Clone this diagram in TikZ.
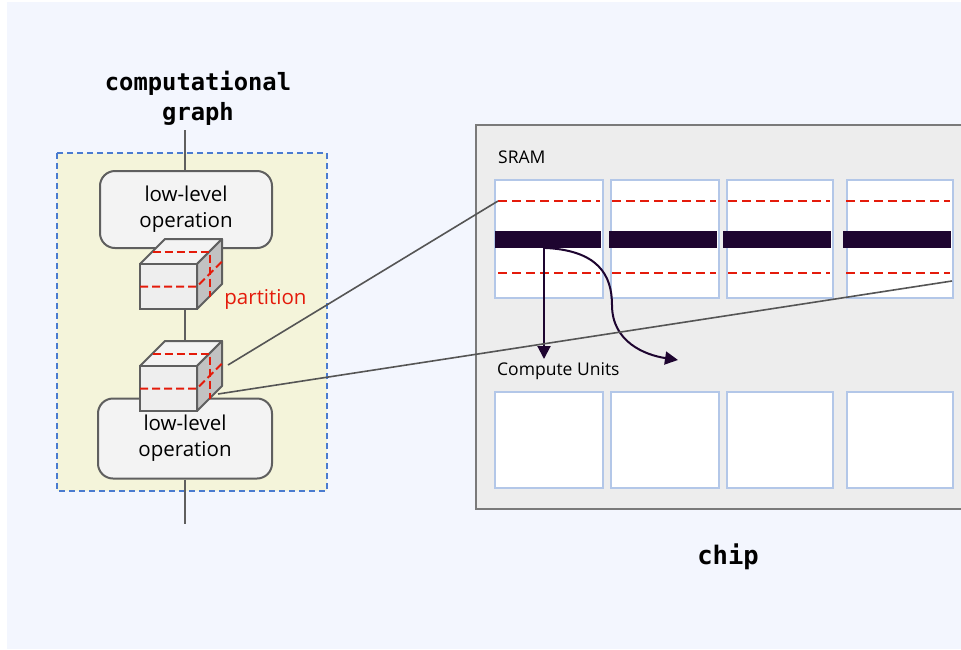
\documentclass[tikz,border=0pt]{standalone}
\usepackage{fontspec}
\setmainfont{Open Sans}
\newfontfamily\codefont{DejaVu Sans Mono}
\usetikzlibrary{arrows.meta}

\definecolor{pagebg}{HTML}{F3F6FE}
\definecolor{grpfill}{HTML}{F4F4DA}
\definecolor{grpline}{HTML}{4A7BD0}
\definecolor{opfill}{HTML}{F3F3F3}
\definecolor{opline}{HTML}{5F5F5F}
\definecolor{cubefront}{HTML}{EEEEEE}
\definecolor{cubetop}{HTML}{F3F3F3}
\definecolor{cubeside}{HTML}{C2C2C2}
\definecolor{cutred}{HTML}{E41B0B}
\definecolor{chipfill}{HTML}{EDEDED}
\definecolor{chipline}{HTML}{7A7A7A}
\definecolor{cellline}{HTML}{B3C7E8}
\definecolor{rowbar}{HTML}{1E0530}
\definecolor{linkgray}{HTML}{555555}

\tikzset{
  opbox/.style={draw=opline, line width=2pt, fill=opfill, rounded corners=15pt,
    minimum width=#1, align=center, font=\fontsize{20.5}{26}\selectfont, inner sep=0pt},
  cell/.style={draw=cellline, line width=2pt, fill=white, minimum width=106pt,
    minimum height=118pt, inner sep=0pt, anchor=north west},
  ucell/.style={cell, minimum height=96pt},
  bar/.style={fill=rowbar, minimum width=#1, minimum height=17pt, inner sep=0pt, anchor=north west},
  cut/.style={draw=cutred, line width=2pt, dash pattern=on 9pt off 5pt},
  cubecut/.style={draw=cutred, line width=2pt, dash pattern=on 8pt off 4pt},
  link/.style={draw=linkgray, line width=1.6pt},
  flow/.style={draw=rowbar, line width=2pt, -{Triangle[length=13pt,width=13pt]}},
  title/.style={font=\codefont\bfseries\fontsize{23.8}{30}\selectfont, align=center, inner sep=0pt},
  lbl/.style={font=\fontsize{17.5}{20}\selectfont, inner sep=0pt, anchor=west},
  opcube/.pic={
    % front, top and side faces
    \filldraw[draw=opline, line width=2pt, fill=cubetop, line join=round]
      (0,0) -- (25,-25) -- (82,-25) -- (57,0) -- cycle;
    \filldraw[draw=opline, line width=2pt, fill=cubeside, line join=round]
      (57,0) -- (82,-25) -- (82,20) -- (57,45) -- cycle;
    \filldraw[draw=opline, line width=2pt, fill=cubefront]
      (0,0) rectangle (57,45);
    % partition planes
    \draw[cubecut] (12.5,-12.5) -- (69.5,-12.5) -- (69.5,32.5);
    \draw[cubecut] (0,22.5) -- (57,22.5) -- (82,-2.5);
  }
}

\begin{document}
\begin{tikzpicture}[x=1pt, y=-1pt]
\useasboundingbox (0,0) rectangle (961,649);
\fill[pagebg] (7,2) rectangle (961,649);

% ---------- computational graph ----------
\node[title] (graphtitle) at (198,98) {computational\\graph};
\draw[grpline, line width=1.5pt, dash pattern=on 6pt off 4pt, fill=grpfill]
  (57,153) rectangle (327,491);
\node[opbox=172pt, minimum height=77pt] (opA) at (186,209.5) {low-level\\operation};
\node[opbox=174pt, minimum height=80pt] (opB) at (185,438.5) {low-level\\operation};

\coordinate (gin) at (185,130);
\coordinate (gout) at (185,524);
\draw[opline, line width=2pt] (gin) -- (gin |- opA.north);
\draw[opline, line width=2pt] (opB.south -| gout) -- (gout);
\draw[opline, line width=2pt] (opA.south -| gin) -- (opB.north -| gin);

\pic at (140,264) {opcube};
\pic at (140,366) {opcube};
\node[text=cutred, font=\fontsize{20.5}{22}\selectfont, inner sep=0pt] (part) at (265.5,299) {partition};

\coordinate (cubeA) at (228,365);
\coordinate (cubeB) at (218,394);

% ---------- chip ----------
\draw[chipline, line width=1.5pt, fill=chipfill] (476,125) rectangle (975,509);
\node[lbl] (sram) at (498,157) {SRAM};

\foreach \i/\x/\w in {1/494/108, 2/610/108, 3/726/106, 4/846/106} {
  \node[cell, minimum width=\w pt] (s\i) at (\x,179) {};
  \node[ucell, minimum width=\w pt] (u\i) at (\x,391) {};
}
\foreach \xa/\xb in {498/600, 612/716, 728/830, 846/950} {
  \draw[cut] (\xa,201) -- (\xb,201);
  \draw[cut] (\xa,273) -- (\xb,273);
}
\foreach \i/\x/\w in {1/495/106, 2/609/108, 3/723/108, 4/843/108} {
  \node[bar=\w pt] (b\i) at (\x,230.5) {};
}

\node[lbl] (units) at (497,371) {Compute Units};
\coordinate (ra) at (544,359);
\coordinate (rb) at (678,360);
\draw[flow] (b1.south -| ra) -- (ra);
\draw[flow] (b1.south -| ra) .. controls (598,250) and (612,275) .. (612,305)
  .. controls (612,342) and (645,355) .. (rb);

\draw[link] (cubeA) -- (498,201);
\draw[link] (cubeB) -- (952,281);

\node[title, font=\codefont\bfseries\fontsize{25.5}{30}\selectfont] (chiplbl) at (728,557) {chip};
\end{tikzpicture}
\end{document}
